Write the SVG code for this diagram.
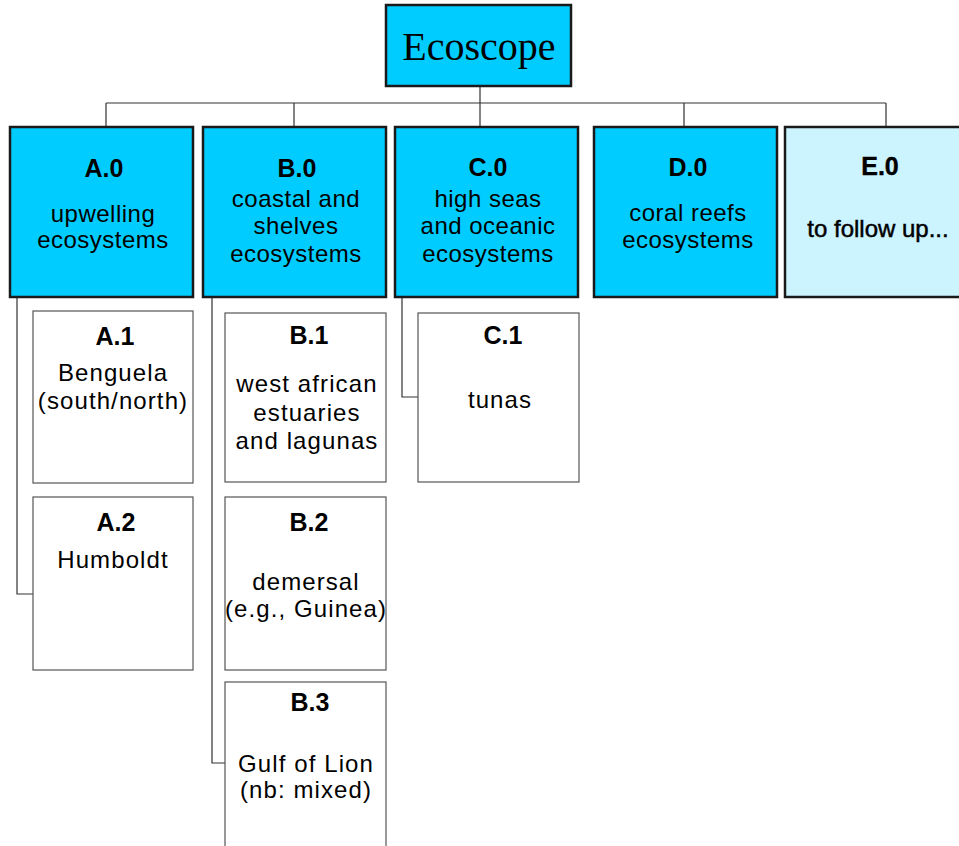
<svg xmlns="http://www.w3.org/2000/svg" width="959" height="846" viewBox="0 0 959 846">
<style>
.bg{fill:#ffffff}
.top{fill:#00CCFF;stroke:#1a1a1a;stroke-width:2.5}
.lvl1{fill:#00CCFF;stroke:#1a1a1a;stroke-width:2.5}
.pale{fill:#CCF4FF;stroke:#1a1a1a;stroke-width:2.5}
.child{fill:#ffffff;stroke:#555555;stroke-width:1.2}
.conn{fill:none;stroke:#333333;stroke-width:1.2}
.title{font-family:"Liberation Serif","Times New Roman",serif;font-size:40px;fill:#000;text-anchor:middle}
.h{font-family:"Liberation Sans",Arial,sans-serif;font-weight:bold;font-size:25px;fill:#000;text-anchor:middle}
.t{font-family:"Liberation Sans",Arial,sans-serif;font-size:24px;fill:#000;text-anchor:middle;letter-spacing:0.5px}
.hc{font-family:"Liberation Sans",Arial,sans-serif;font-weight:bold;font-size:25px;fill:#000;text-anchor:middle}
.tc{font-family:"Liberation Sans",Arial,sans-serif;font-size:24px;fill:#000;text-anchor:middle;letter-spacing:1.1px}
.fu{font-family:"Liberation Sans",Arial,sans-serif;font-size:24px;fill:#000;text-anchor:middle;stroke:#000;stroke-width:0.5}
</style>
<rect class="bg" x="0" y="0" width="959" height="846"/>
<g id="connectors">
<path class="conn" d="M480 86V103M106 103H886M106 103V127M294 103V127M480 103V127M684 103V127M886 103V127"/>
<path class="conn" d="M17 297V594H33"/>
<path class="conn" d="M212 297V763H225"/>
<path class="conn" d="M402 297V397H418"/>
</g>
<g id="ecoscope">
<rect class="top" x="386" y="5" width="185" height="81"/>
<text class="title" x="479" y="60">Ecoscope</text>
</g>
<g id="A0">
<rect class="lvl1" x="10" y="127" width="183" height="170"/>
<text class="h" x="104" y="177">A.0</text>
<text class="t" x="103" y="222">upwelling</text>
<text class="t" x="103" y="248">ecosystems</text>
</g>
<g id="B0">
<rect class="lvl1" x="203" y="127" width="183" height="170"/>
<text class="h" x="297" y="177">B.0</text>
<text class="t" x="296" y="207">coastal and</text>
<text class="t" x="296" y="234">shelves</text>
<text class="t" x="296" y="262">ecosystems</text>
</g>
<g id="C0">
<rect class="lvl1" x="395" y="127" width="183" height="170"/>
<text class="h" x="488" y="176">C.0</text>
<text class="t" x="488" y="207">high seas</text>
<text class="t" x="488" y="234">and oceanic</text>
<text class="t" x="488" y="262">ecosystems</text>
</g>
<g id="D0">
<rect class="lvl1" x="594" y="127" width="183" height="170"/>
<text class="h" x="688" y="176">D.0</text>
<text class="t" x="688" y="221">coral reefs</text>
<text class="t" x="688" y="248">ecosystems</text>
</g>
<g id="E0">
<rect class="pale" x="785" y="127" width="186" height="170"/>
<text class="h" x="880" y="175" style="stroke:#000;stroke-width:0.4">E.0</text>
<text class="fu" x="878" y="237">to follow up...</text>
</g>
<g id="A1">
<rect class="child" x="33" y="311" width="160" height="172"/>
<text class="hc" x="115" y="345">A.1</text>
<text class="tc" x="113" y="381">Benguela</text>
<text class="tc" x="113" y="409">(south/north)</text>
</g>
<g id="A2">
<rect class="child" x="33" y="497" width="160" height="173"/>
<text class="hc" x="116" y="531">A.2</text>
<text class="tc" x="113" y="568">Humboldt</text>
</g>
<g id="B1">
<rect class="child" x="225" y="313" width="161" height="169"/>
<text class="hc" x="309" y="344">B.1</text>
<text class="tc" x="307" y="392">west african</text>
<text class="tc" x="307" y="421">estuaries</text>
<text class="tc" x="307" y="449">and lagunas</text>
</g>
<g id="B2">
<rect class="child" x="225" y="497" width="161" height="173"/>
<text class="hc" x="309" y="531">B.2</text>
<text class="tc" x="306" y="590">demersal</text>
<text class="tc" x="306" y="617">(e.g., Guinea)</text>
</g>
<g id="B3">
<rect class="child" x="225" y="682" width="161" height="175"/>
<text class="hc" x="310" y="711">B.3</text>
<text class="tc" x="306" y="772">Gulf of Lion</text>
<text class="tc" x="306" y="798">(nb: mixed)</text>
</g>
<g id="C1">
<rect class="child" x="418" y="313" width="161" height="169"/>
<text class="hc" x="503" y="344">C.1</text>
<text class="tc" x="500" y="408">tunas</text>
</g>
</svg>
